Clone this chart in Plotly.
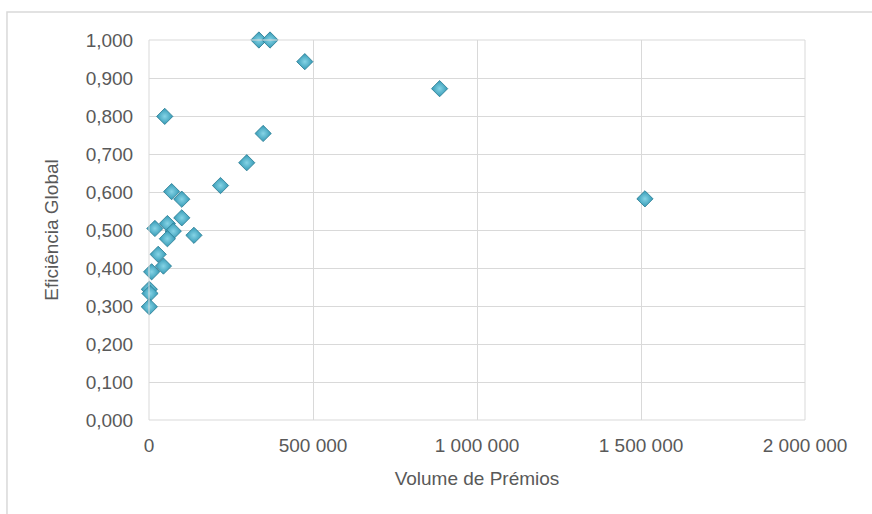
import plotly.graph_objects as go

volume_premios = [335000, 369000, 475000, 886000, 1512000, 48000, 348000, 298000, 218000,
                  69000, 100000, 100000, 18000, 56000, 74000, 56000, 137000, 28000,
                  44000, 8000, 1000, 3000, 1000]
eficiencia_global = [1.000, 1.000, 0.943, 0.872, 0.582, 0.799, 0.754, 0.677, 0.617,
                     0.601, 0.581, 0.532, 0.504, 0.517, 0.497, 0.477, 0.486, 0.436,
                     0.405, 0.390, 0.344, 0.333, 0.298]
x_ticks = [0, 500000, 1000000, 1500000, 2000000]
y_ticks = [0.0, 0.1, 0.2, 0.3, 0.4, 0.5, 0.6, 0.7, 0.8, 0.9, 1.0]

font_family = "Liberation Sans, Arial, sans-serif"
text_color = "#595959"
grid_color = "#d9d9d9"

fig = go.Figure()
fig.add_trace(go.Scatter(
    x=volume_premios, y=eficiencia_global, mode="markers",
    cliponaxis=False,
    marker=dict(symbol="diamond", size=12.5, color="#3399b5",
                gradient=dict(type="radial", color="#86d4e6"),
                line=dict(color="#287a91", width=0.8)),
    showlegend=False,
))

fig.update_layout(
    width=872, height=514,
    margin=dict(l=149, r=67, t=40, b=94),
    paper_bgcolor="white", plot_bgcolor="white",
    separators=", ",
    font=dict(family=font_family, size=19, color=text_color),
    xaxis=dict(range=[0, 2000000], tickvals=x_ticks, tickformat=",d",
               showgrid=True, gridcolor=grid_color, gridwidth=1,
               zeroline=False, showline=False,
               ticks="outside", ticklen=8, tickcolor="rgba(0,0,0,0)",
               tickfont=dict(size=19, color=text_color),
               title=dict(text="Volume de Prémios", font=dict(size=19, color=text_color), standoff=16)),
    yaxis=dict(range=[0, 1.0], tickvals=y_ticks, tickformat=".3f",
               showgrid=True, gridcolor=grid_color, gridwidth=1,
               zeroline=False, showline=False,
               ticks="outside", ticklen=11, tickcolor="rgba(0,0,0,0)",
               tickfont=dict(size=19, color=text_color),
               title=dict(text="Eficiência Global", font=dict(size=19, color=text_color), standoff=22)),
    shapes=[
        dict(type="rect", xref="paper", yref="paper",
             x0=-0.2165, x1=1.3, y0=-0.26, y1=1.0737,
             line=dict(color=grid_color, width=1.5), fillcolor="rgba(0,0,0,0)", layer="below"),
        dict(type="line", xref="paper", yref="paper", x0=0, x1=1, y0=1, y1=1,
             line=dict(color=grid_color, width=1)),
        dict(type="line", xref="paper", yref="paper", x0=1, x1=1, y0=0, y1=1,
             line=dict(color=grid_color, width=1)),
        dict(type="line", xref="paper", yref="paper", x0=0, x1=0, y0=0, y1=1,
             line=dict(color=grid_color, width=1)),
        dict(type="line", xref="paper", yref="paper", x0=0, x1=1, y0=0, y1=0,
             line=dict(color=grid_color, width=1)),
    ],
)

fig.write_html("out.html", config={"displayModeBar": False},
               post_script="document.body.style.margin='0';")
